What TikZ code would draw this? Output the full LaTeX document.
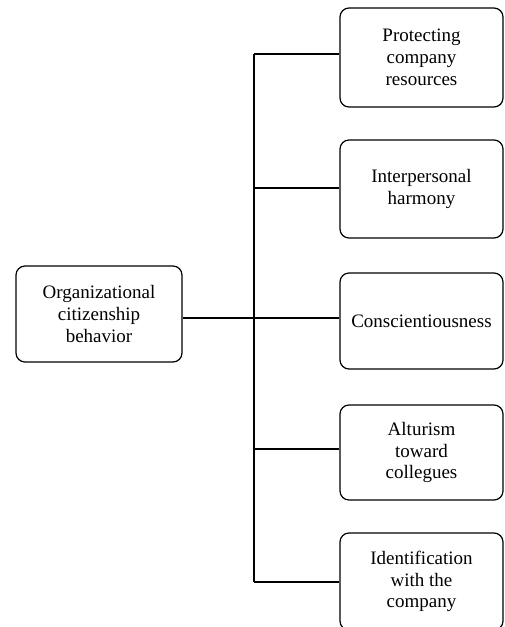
\documentclass[tikz,border=0pt]{standalone}
\usepackage{fontspec}
\setmainfont{Liberation Serif}
\begin{document}
\begin{tikzpicture}[x=1pt,y=-1pt,
  box/.style={draw,line width=1.2pt,rounded corners=9pt,align=center,
    minimum width=163pt,inner sep=2pt,font=\fontsize{19}{21.7}\selectfont},
  conn/.style={line width=1.2pt}]
\useasboundingbox (0,0) rectangle (505,627);
\clip (0,0) rectangle (505,627);
\node[box,minimum width=166pt,minimum height=96pt] (ocb) at (99,314) {Organizational\\citizenship\\behavior};
\node[box,minimum height=99pt] (b1) at (421.5,57.5) {Protecting\\company\\resources};
\node[box,minimum height=98pt] (b2) at (421.5,189) {Interpersonal\\harmony};
\node[box,minimum height=96pt] (b3) at (421.5,321) {Conscientiousness};
\node[box,minimum height=95pt] (b4) at (421.5,452.5) {Alturism\\toward\\collegues};
\node[box,minimum height=97pt] (b5) at (421.5,581.5) {Identification\\with the\\company};
\coordinate (j1) at (254,54);
\coordinate (j2) at (254,188);
\coordinate (jm) at (254,318);
\coordinate (j4) at (254,449);
\coordinate (j5) at (254,582);
\draw[conn] (j1) -- (j5);
\draw[conn] (ocb.east |- jm) -- (jm) -- (b3.west |- jm);
\draw[conn] (j1) -- (b1.west |- j1);
\draw[conn] (j2) -- (b2.west |- j2);
\draw[conn] (j4) -- (b4.west |- j4);
\draw[conn] (j5) -- (b5.west |- j5);
\end{tikzpicture}
\end{document}
